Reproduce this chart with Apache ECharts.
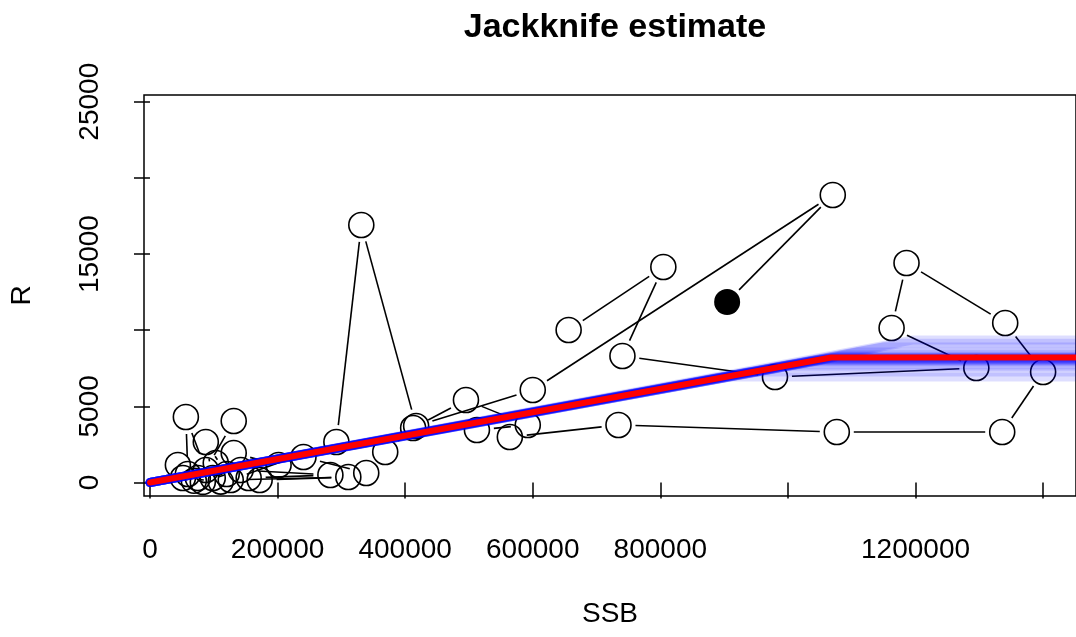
<!DOCTYPE html>
<html>
<head>
<meta charset="utf-8">
<script src="https://cdn.jsdelivr.net/npm/echarts@6/dist/echarts.min.js"></script>
<style>
  html, body { margin: 0; padding: 0; background: #fff; }
  #chart { width: 1076px; height: 637px; }
</style>
</head>
<body>
<div id="chart"></div>
<script>
// Stock-recruitment series in year order (last year drawn filled)
const ssb = [
  656250, 804700, 740600, 979700, 1295300, 1162500, 1185900, 1340600, 1400000, 1335900,
  1076600, 734400, 564100, 512500, 592200, 495300, 412500, 368750, 339000, 240600,
  201600, 131250, 131250, 87500, 56250, 59400, 43750, 98400, 87500, 120300,
  75000, 103100, 68750, 110900, 51600, 82800, 142200, 282800, 154700, 171900,
  310900, 126600, 292200, 331250, 417200, 600000, 1070300, 904700
];
const rec = [
  10012, 14148, 8305, 6926, 7517, 10143, 14410, 10471, 7254, 3315,
  3315, 3775, 2987, 3447, 3775, 5416, 3578, 2002, 624, 1674,
  1149, 1937, 4037, 821, 4300, 558, 1149, 295, 2659, 558,
  295, 1280, 120, 60, 295, 40, 821, 492, 295, 164,
  361, 164, 2659, 16905, 3709, 6073, 18875, 11850
];

// Hockey-stick fit: breakpoint SSB and plateau R
const fitBreak = 1068000;
const fitLevel = 8206;

// Leave-one-out (jackknife) refits
const jkBreak = [
  1195000, 1180000, 1148000, 1108000, 1092000, 1080000, 1078000, 1068000, 1072000, 1060000,
  1066000, 1052000, 1060000, 1044000, 1054000, 1032000, 1035000, 1000000, 995000, 935000, 910000
];
const jkLevel = [
  9350, 9150, 8890, 8560, 8380, 8300, 8250, 8230, 8190, 8170,
  8140, 8110, 8090, 8050, 8020, 7960, 7900, 7720, 7580, 7250, 6930
];

const xTicks = [0, 200000, 400000, 600000, 800000, 1000000, 1200000, 1400000];
const xTickLabels = [0, 200000, 400000, 600000, 800000, 1200000];
const yTicks = [0, 5000, 10000, 15000, 20000, 25000];
const yTickLabels = [0, 5000, 15000, 25000];

const xEnd = 1600000;   // fitted lines run on past the right edge
const FONT = '"Liberation Sans", Arial, Helvetica, sans-serif';
const GAP = 17;         // gap left between a point and its connecting segment

const chart = echarts.init(document.getElementById('chart'), null, { renderer: 'canvas' });

const segments = ssb.slice(0, -1).map((x, i) => [x, rec[i], ssb[i + 1], rec[i + 1]]);
const openPts = ssb.slice(0, -1).map((x, i) => [x, rec[i]]);
const lastPt = [[ssb[ssb.length - 1], rec[rec.length - 1]]];

function renderSegment(params, api) {
  const a = api.coord([api.value(0), api.value(1)]);
  const b = api.coord([api.value(2), api.value(3)]);
  const dx = b[0] - a[0], dy = b[1] - a[1];
  const len = Math.hypot(dx, dy);
  if (len <= 2 * GAP) return null;
  const ux = dx / len, uy = dy / len;
  return {
    type: 'line',
    shape: { x1: a[0] + ux * GAP, y1: a[1] + uy * GAP, x2: b[0] - ux * GAP, y2: b[1] - uy * GAP },
    style: { stroke: '#000', lineWidth: 1.6 }
  };
}

const series = [
  {
    type: 'custom',
    renderItem: renderSegment,
    data: segments,
    encode: { x: [0, 2], y: [1, 3] },
    silent: true
  },
  {
    type: 'scatter',
    data: openPts,
    symbol: 'circle',
    symbolSize: 25,
    itemStyle: { color: 'rgba(255,255,255,0)', borderColor: '#000', borderWidth: 1.6, opacity: 1 },
    silent: true
  },
  {
    type: 'scatter',
    data: lastPt,
    symbol: 'circle',
    symbolSize: 26,
    itemStyle: { color: '#000', opacity: 1 },
    silent: true
  }
];

jkBreak.forEach((bp, i) => {
  series.push({
    type: 'line',
    data: [[0, 0], [bp, jkLevel[i]], [xEnd, jkLevel[i]]],
    showSymbol: false,
    symbol: 'none',
    lineStyle: { color: 'rgba(0,0,255,0.13)', width: 9, cap: 'round', join: 'round' },
    silent: true
  });
});

series.push({
  type: 'line',
  data: [[0, 0], [fitBreak, fitLevel], [xEnd, fitLevel]],
  showSymbol: false,
  symbol: 'none',
  lineStyle: { color: '#ff0000', width: 6, cap: 'round', join: 'round' },
  silent: true
});

const axisText = { fontFamily: FONT, fontSize: 28, color: '#000' };

chart.setOption({
  animation: false,
  backgroundColor: '#fff',
  title: {
    text: 'Jackknife estimate',
    left: 610,
    textAlign: 'center',
    top: 6,
    textStyle: { fontFamily: FONT, fontSize: 34, fontWeight: 'bold', color: '#000' }
  },
  grid: {
    left: 143, top: 95, width: 935, height: 401,
    show: true, borderColor: '#000', borderWidth: 1.5, backgroundColor: 'rgba(0,0,0,0)'
  },
  xAxis: {
    type: 'value',
    min: -9375,
    max: 1451560,
    name: 'SSB',
    nameLocation: 'middle',
    nameGap: 104,
    nameTextStyle: axisText,
    axisLine: { show: false },
    splitLine: { show: false },
    axisTick: { show: true, customValues: xTicks, length: 16, lineStyle: { color: '#000', width: 1.5 } },
    axisLabel: { customValues: xTickLabels, margin: 40, ...axisText, formatter: v => String(v) }
  },
  yAxis: {
    type: 'value',
    min: -886,
    max: 25440,
    name: 'R',
    nameLocation: 'middle',
    nameGap: 108,
    nameRotate: 90,
    nameTextStyle: axisText,
    axisLine: { show: false },
    splitLine: { show: false },
    axisTick: { show: true, customValues: yTicks, length: 16, lineStyle: { color: '#000', width: 1.5 } },
    axisLabel: { customValues: yTickLabels, margin: 40, rotate: 90, ...axisText, formatter: v => String(v) }
  },
  series: series
});
</script>
</body>
</html>
